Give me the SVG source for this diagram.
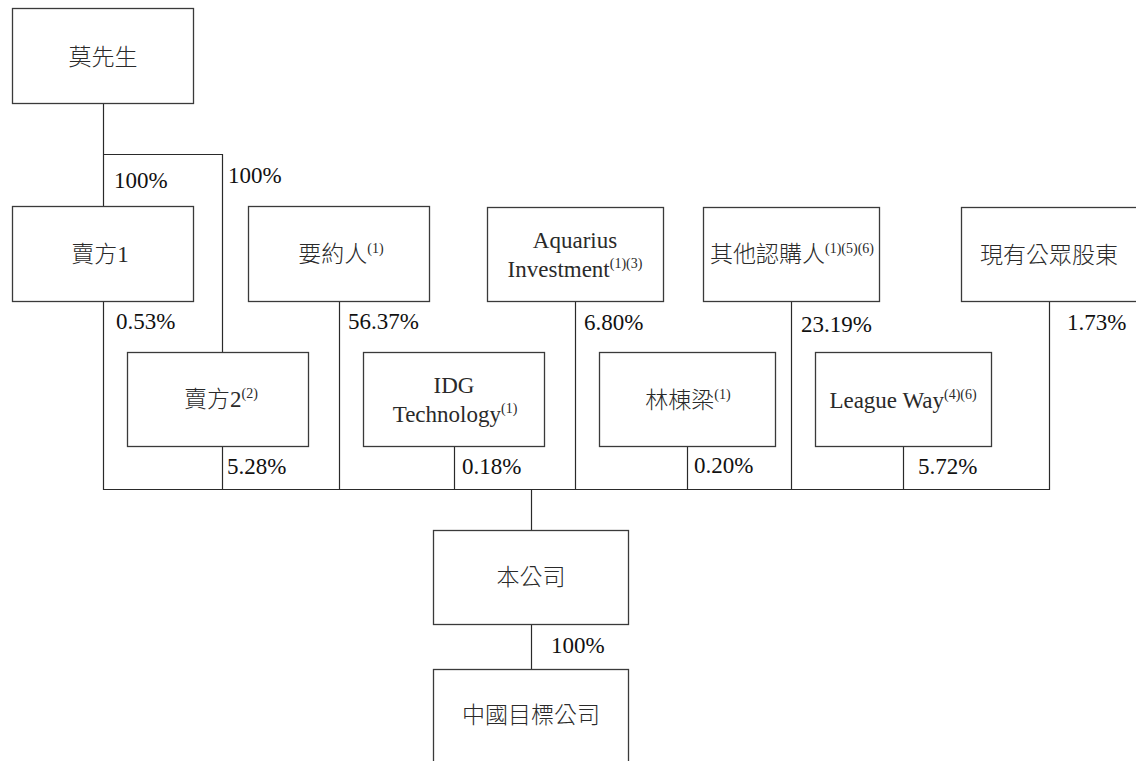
<svg xmlns="http://www.w3.org/2000/svg" width="1136" height="761" viewBox="0 0 1136 761">
<style>
.box{fill:#fff;stroke:#3a3a3a;stroke-width:1.3}
.ln{fill:none;stroke:#2a2a2a;stroke-width:1.2}
.t{font-family:"Liberation Serif","Noto Sans CJK TC",serif;font-size:23px;font-weight:300;fill:#2a2a2a;text-anchor:middle}
.p{font-family:"Liberation Serif","Noto Sans CJK TC",serif;font-size:23px;font-weight:300;fill:#111}
.s{font-size:14px}
</style>
<rect width="1136" height="761" fill="#fff"/>
<g id="connectors">
<path class="ln" d="M103.5 103V206"/>
<path class="ln" d="M103.5 154.5H222.5V352"/>
<path class="ln" d="M103.5 301V489.5H1049.5V301"/>
<path class="ln" d="M222.5 446V489"/>
<path class="ln" d="M339.5 301V489"/>
<path class="ln" d="M454.5 446V489"/>
<path class="ln" d="M575.5 301V489"/>
<path class="ln" d="M687.5 446V489"/>
<path class="ln" d="M791.5 301V489"/>
<path class="ln" d="M903.5 446V489"/>
<path class="ln" d="M531.5 489V530"/>
<path class="ln" d="M531.5 624V669"/>
</g>
<g id="labels">
<text class="p" x="114" y="188">100%</text>
<text class="p" x="228" y="183">100%</text>
<text class="p" x="116" y="329">0.53%</text>
<text class="p" x="348" y="329">56.37%</text>
<text class="p" x="584" y="330">6.80%</text>
<text class="p" x="801" y="332">23.19%</text>
<text class="p" x="1067" y="330">1.73%</text>
<text class="p" x="227" y="474">5.28%</text>
<text class="p" x="462" y="474">0.18%</text>
<text class="p" x="694" y="473">0.20%</text>
<text class="p" x="918" y="474">5.72%</text>
<text class="p" x="551" y="653">100%</text>
</g>
<g id="n-mo">
<rect class="box" x="12.5" y="8.5" width="181" height="95"/>
<text class="t" x="103" y="65">莫先生</text>
</g>
<g id="n-seller1">
<rect class="box" x="12.5" y="206.5" width="181" height="95"/>
<text class="t" x="100" y="262">賣方1</text>
</g>
<g id="n-offeror">
<rect class="box" x="248.5" y="206.5" width="181" height="95"/>
<text class="t" x="341" y="262">要約人<tspan class="s" dy="-9">(1)</tspan></text>
</g>
<g id="n-aquarius">
<rect class="box" x="487.5" y="207.5" width="176" height="94"/>
<text class="t" x="575" y="248">Aquarius</text>
<text class="t" x="575" y="277">Investment<tspan class="s" dy="-9">(1)(3)</tspan></text>
</g>
<g id="n-others">
<rect class="box" x="703.5" y="207.5" width="176" height="94"/>
<text class="t" x="792" y="262">其他認購人<tspan class="s" dy="-9">(1)(5)(6)</tspan></text>
</g>
<g id="n-public">
<rect class="box" x="961.5" y="207.5" width="177" height="94"/>
<text class="t" x="1049" y="263">現有公眾股東</text>
</g>
<g id="n-seller2">
<rect class="box" x="127.5" y="352.5" width="181" height="94"/>
<text class="t" x="221" y="407">賣方2<tspan class="s" dy="-9">(2)</tspan></text>
</g>
<g id="n-idg">
<rect class="box" x="363.5" y="352.5" width="181" height="94"/>
<text class="t" x="454" y="393">IDG</text>
<text class="t" x="455" y="422">Technology<tspan class="s" dy="-9">(1)</tspan></text>
</g>
<g id="n-lin">
<rect class="box" x="599.5" y="352.5" width="176" height="94"/>
<text class="t" x="688" y="408">林棟梁<tspan class="s" dy="-9">(1)</tspan></text>
</g>
<g id="n-league">
<rect class="box" x="815.5" y="352.5" width="176" height="94"/>
<text class="t" x="903" y="408">League Way<tspan class="s" dy="-9">(4)(6)</tspan></text>
</g>
<g id="n-company">
<rect class="box" x="433.5" y="530.5" width="195" height="94"/>
<text class="t" x="531" y="585">本公司</text>
</g>
<g id="n-target">
<rect class="box" x="433.5" y="669.5" width="195" height="100"/>
<text class="t" x="531" y="723">中國目標公司</text>
</g>
</svg>
